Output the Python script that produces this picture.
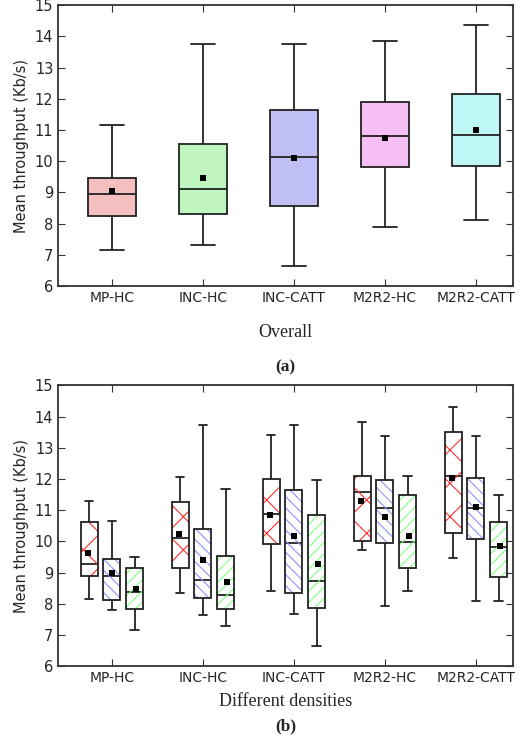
import numpy as np, pandas as pd, seaborn as sns, matplotlib
matplotlib.use("Agg")
import matplotlib.pyplot as plt
from matplotlib.patches import PathPatch

cats = ["MP-HC", "INC-HC", "INC-CATT", "M2R2-HC", "M2R2-CATT"]
# top panel: min, q1, median, q3, max
top_stats = [[7.15, 8.25, 8.95, 9.45, 11.15],
             [7.3, 8.3, 9.1, 10.55, 13.75],
             [6.65, 8.55, 10.15, 11.65, 13.75],
             [7.9, 9.8, 10.8, 11.9, 13.85],
             [8.1, 9.85, 10.85, 12.15, 14.35]]
top_means = [9.05, 9.45, 10.1, 10.75, 11.0]
top_colors = ["#ffb6b6", "#b6ffb6", "#b6b6ff", "#ffb6ff", "#b6ffff"]

groups = ["g1", "g2", "g3"]
bot_stats = {
    "g1": [[8.15, 8.9, 9.27, 10.61, 11.28], [8.34, 9.13, 10.12, 11.27, 12.07],
           [8.41, 9.9, 10.89, 11.99, 13.41], [9.73, 10.02, 11.57, 12.08, 13.82],
           [9.47, 10.26, 12.1, 13.5, 14.32]],
    "g2": [[7.79, 8.13, 8.9, 9.43, 10.65], [7.63, 8.18, 8.76, 10.4, 13.72],
           [7.66, 8.35, 9.95, 11.66, 13.72], [7.92, 9.96, 11.07, 11.95, 13.37],
           [8.09, 10.07, 11.07, 12.04, 13.37]],
    "g3": [[7.16, 7.84, 8.37, 9.14, 9.5], [7.28, 7.84, 8.28, 9.52, 11.69],
           [6.64, 7.85, 8.74, 10.84, 11.95], [8.41, 9.15, 9.99, 11.48, 12.1],
           [8.09, 8.86, 9.81, 10.62, 11.5]],
}
bot_means = {"g1": [9.64, 10.22, 10.83, 11.28, 12.04],
             "g2": [9.0, 9.41, 10.18, 10.78, 11.1],
             "g3": [8.47, 8.71, 9.28, 10.18, 9.84]}
hatch_colors = {"g1": "#ff3030", "g2": "#9090ff", "g3": "#80ff80"}
hatches = {"g1": "x", "g2": "\\\\\\", "g3": "///"}

sns.set_style("ticks")
plt.rcParams["font.family"] = ["DejaVu Sans"]
plt.rcParams["hatch.linewidth"] = 0.8

df_top = pd.DataFrame([(c, v) for c, s in zip(cats, top_stats) for v in s], columns=["cat", "val"])
df_topm = pd.DataFrame({"cat": cats, "val": top_means})
df_bot = pd.DataFrame([(c, g, v) for g in groups for c, s in zip(cats, bot_stats[g]) for v in s],
                      columns=["cat", "grp", "val"])
df_botm = pd.DataFrame([(c, g, m) for g in groups for c, m in zip(cats, bot_means[g])],
                       columns=["cat", "grp", "val"])

fig = plt.figure(figsize=(5.2, 7.41), dpi=100)
ax1 = fig.add_axes([0.112, 0.614, 0.875, 0.379])
ax2 = fig.add_axes([0.112, 0.101, 0.875, 0.379])

lp = dict(color="#222222", linewidth=1.3)
sns.boxplot(data=df_top, x="cat", y="val", hue="cat", palette=top_colors, whis=np.inf,
            width=0.52, linecolor="#222222", linewidth=1.3, legend=False, ax=ax1,
            capprops=lp, whiskerprops=lp, medianprops=lp, boxprops=dict(edgecolor="#222222"))
sns.stripplot(data=df_topm, x="cat", y="val", color="black", marker="s", size=5, jitter=False, ax=ax1)

sns.boxplot(data=df_bot, x="cat", y="val", hue="grp", hue_order=groups, palette=["white"] * 3,
            whis=np.inf, width=0.75, gap=0.25, linecolor="#222222", linewidth=1.3, legend=False, ax=ax2,
            capprops=lp, whiskerprops=lp, medianprops=lp, boxprops=dict(edgecolor="#222222"))
boxes = [p for p in ax2.patches if isinstance(p, PathPatch)]
for i, p in enumerate(boxes):
    g = groups[i // len(cats)]
    hp = PathPatch(p.get_path(), transform=p.get_transform(), facecolor="none",
                   edgecolor=hatch_colors[g], hatch=hatches[g], linewidth=0, zorder=p.get_zorder() + 0.1)
    ax2.add_patch(hp)
    p.set_zorder(p.get_zorder() + 0.2)
    p.set_facecolor("none")
sns.stripplot(data=df_botm, x="cat", y="val", hue="grp", hue_order=groups, palette=["black"] * 3,
              marker="s", size=5, jitter=False, dodge=True, legend=False, ax=ax2)
for c in ax2.collections:
    c.set_zorder(10)

for ax, xl, lab, pad, ly in [(ax1, "Overall", "(a)", 14, -0.29), (ax2, "Different densities", "(b)", 6, -0.215)]:
    ax.set_ylim(6, 15)
    ax.set_yticks(range(6, 16))
    ax.set_xlim(-0.59, 4.41)
    ax.set_ylabel("Mean throughput (Kb/s)", fontsize=10.5)
    ax.set_xlabel(xl, fontsize=13, family="Liberation Serif", labelpad=pad)
    ax.tick_params(direction="in", top=True, right=True, length=5, labelsize=10.5, color="#333333")
    ax.tick_params(axis="x", labelsize=10)
    for s in ax.spines.values():
        s.set_color("#333333")
        s.set_linewidth(1.3)
    ax.text(0.5, ly, lab, transform=ax.transAxes, ha="center", va="center",
            fontsize=12.5, fontweight="bold", family="Liberation Serif")

fig.savefig("out.png", dpi=100)
